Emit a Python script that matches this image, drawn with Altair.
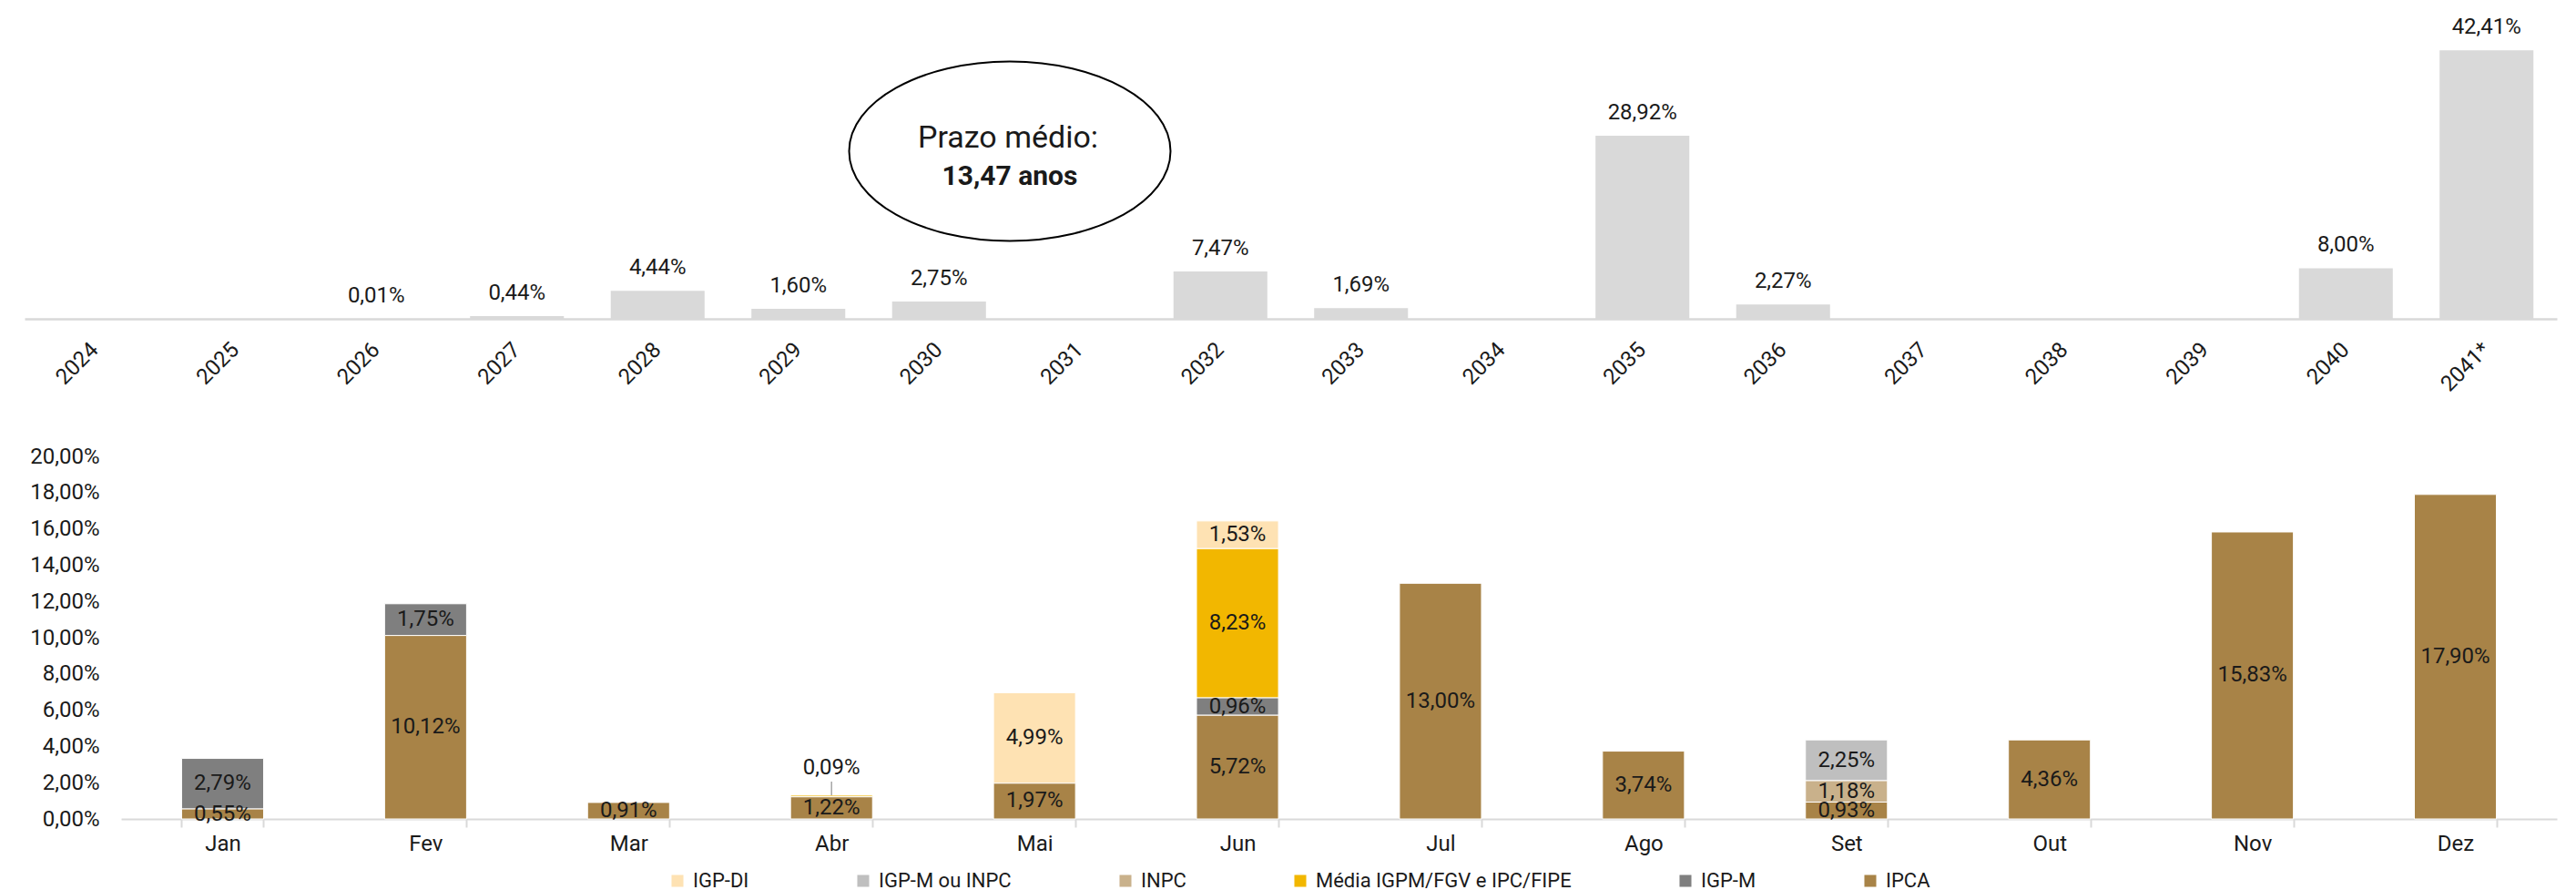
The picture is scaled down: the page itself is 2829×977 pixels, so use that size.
import altair as alt
import pandas as pd

# ---------------- data ----------------
years = ["2024", "2025", "2026", "2027", "2028", "2029", "2030", "2031", "2032",
         "2033", "2034", "2035", "2036", "2037", "2038", "2039", "2040", "2041*"]
year_pct = [None, None, 0.01, 0.44, 4.44, 1.60, 2.75, None, 7.47,
            1.69, None, 28.92, 2.27, None, None, None, 8.00, 42.41]

prazo_lines = ["Prazo médio:", "13,47 anos"]

months = ["Jan", "Fev", "Mar", "Abr", "Mai", "Jun", "Jul", "Ago", "Set", "Out", "Nov", "Dez"]

series_names = ["IGP-DI", "IGP-M ou INPC", "INPC", "Média IGPM/FGV e IPC/FIPE", "IGP-M", "IPCA"]
series_colors = ["#FEE2B3", "#BFBFBF", "#C9B18B", "#F2B700", "#7F7F7F", "#A88347"]
stack_rank = [5, 4, 3, 2, 1, 0]  # IPCA at the bottom of each stack

ipca = [0.55, 10.12, 0.91, 1.22, 1.97, 5.72, 13.00, 3.74, 0.93, 4.36, 15.83, 17.90]
igpm = [2.79, 1.75, None, None, None, 0.96, None, None, None, None, None, None]
media = [None, None, None, 0.09, None, 8.23, None, None, None, None, None, None]
inpc = [None, None, None, None, None, None, None, None, 1.18, None, None, None]
igpm_ou_inpc = [None, None, None, None, None, None, None, None, 2.25, None, None, None]
igpdi = [None, None, None, None, 4.99, 1.53, None, None, None, None, None, None]

y_ticks = [0, 2, 4, 6, 8, 10, 12, 14, 16, 18, 20]

# ---------------- tables ----------------
top_df = pd.DataFrame({"ano": years, "pct": year_pct})

series_values = {
    "IGP-DI": igpdi,
    "IGP-M ou INPC": igpm_ou_inpc,
    "INPC": inpc,
    "Média IGPM/FGV e IPC/FIPE": media,
    "IGP-M": igpm,
    "IPCA": ipca,
}
rows = []
for name, rank in zip(series_names, stack_rank):
    for m, v in zip(months, series_values[name]):
        if v is not None:
            rows.append({"mes": m, "serie": name, "pct": v, "ordem": rank})
bot_df = pd.DataFrame(rows)

FMT = "replace(format(datum.{f}, '.2f'), '.', ',') + '%'"
TXT = "#1a1a1a"

# ---------------- top chart ----------------
xtop = alt.X(
    "ano:N", sort=years,
    scale=alt.Scale(paddingInner=0.333, paddingOuter=0.1665),
    axis=alt.Axis(title=None, labelAngle=-45, labelAlign="right", labelBaseline="middle",
                  labelFontSize=24, labelPadding=30, ticks=False, labelColor=TXT,
                  domainColor="#D9D9D9", domainWidth=2.5),
)
ytop_scale = alt.Scale(domain=[0, 48.2], nice=False)

bars_top = alt.Chart(top_df).mark_bar(color="#D9D9D9").encode(
    x=xtop, y=alt.Y("pct:Q", scale=ytop_scale, axis=None)
)

labels_top = (
    alt.Chart(top_df)
    .transform_filter("isValid(datum.pct)")
    .transform_calculate(lbl=FMT.format(f="pct"))
    .mark_text(baseline="bottom", dy=-13, fontSize=24, color=TXT)
    .encode(x=alt.X("ano:N", sort=years),
            y=alt.Y("pct:Q", scale=ytop_scale, axis=None), text="lbl:N")
)

ell_df = pd.DataFrame({"k": [0]})
ellipse = alt.Chart(ell_df).mark_point(
    shape="M -1 0 A 1 0.558 0 1 1 1 0 A 1 0.558 0 1 1 -1 0 Z",
    size=124600, filled=False, color="black", strokeWidth=2, opacity=1, clip=True,
).encode(x=alt.value(1082), y=alt.value(151))

prazo1 = alt.Chart(pd.DataFrame({"t": [prazo_lines[0]]})).mark_text(
    fontSize=34, baseline="alphabetic", color=TXT
).encode(x=alt.value(1080), y=alt.value(147), text="t:N")
prazo2 = alt.Chart(pd.DataFrame({"t": [prazo_lines[1]]})).mark_text(
    fontSize=30, fontWeight="bold", baseline="alphabetic", color=TXT
).encode(x=alt.value(1082), y=alt.value(188), text="t:N")

top = alt.layer(bars_top, labels_top, ellipse, prazo1, prazo2).properties(width=2781, height=335)

# ---------------- bottom chart ----------------
base = (
    alt.Chart(bot_df)
    .transform_stack(stack="pct", groupby=["mes"],
                     sort=[alt.SortField("ordem", order="ascending")], as_=["y0", "y1"])
    .transform_calculate(mid="(datum.y0 + datum.y1) / 2", lbl=FMT.format(f="pct"))
)

xb_axis = alt.Axis(title=None, labelAngle=0, labelFontSize=24, labelPadding=6, labelColor=TXT,
                   tickBand="extent", tickColor="#D9D9D9", tickSize=9, tickWidth=2,
                   domainColor="#D9D9D9", domainWidth=2)
xb_scale = alt.Scale(paddingInner=0.596, paddingOuter=0.298)
yb_axis = alt.Axis(title=None, values=y_ticks, grid=False, domain=False, ticks=False,
                   labelFontSize=24, labelPadding=24, labelColor=TXT, labelOverlap=False,
                   labelExpr="replace(format(datum.value, '.2f'), '.', ',') + '%'")
yb_scale = alt.Scale(domain=[0, 20], nice=False)


def xenc():
    return alt.X("mes:N", sort=months, scale=xb_scale, axis=xb_axis)


def yenc(field):
    return alt.Y(field, scale=yb_scale, axis=yb_axis)


bars_b = base.mark_bar(stroke="white", strokeWidth=1).encode(
    x=xenc(), y=yenc("y0:Q"), y2="y1:Q",
    color=alt.Color(
        "serie:N",
        scale=alt.Scale(domain=series_names, range=series_colors),
        legend=alt.Legend(title=None, orient="none", legendX=706, legendY=941,
                          direction="horizontal", symbolType="square", symbolSize=170,
                          symbolStrokeWidth=0, labelFontSize=22, labelColor=TXT,
                          labelLimit=600, columnPadding=114, labelOffset=6),
    ),
)

labels_b = base.transform_filter("datum.pct >= 0.3").mark_text(
    fontSize=24, color=TXT, baseline="middle"
).encode(x=xenc(), y=yenc("mid:Q"), text="lbl:N")

callout_rule = base.transform_filter("datum.pct < 0.3").transform_calculate(
    ya="datum.y1 + 0.75"
).mark_rule(color="#A6A6A6", strokeWidth=1.5).encode(
    x=xenc(), y=yenc("y1:Q"), y2="ya:Q"
)
callout_text = base.transform_filter("datum.pct < 0.3").transform_calculate(
    yt="datum.y1 + 1.5"
).mark_text(fontSize=24, color=TXT, baseline="middle").encode(
    x=xenc(), y=yenc("yt:Q"), text="lbl:N"
)

bottom = alt.layer(bars_b, labels_b, callout_rule, callout_text).properties(width=2675, height=398)

# a 1px empty column keeps the lower panel's axis labels to the right of the upper panel's edge
spacer = alt.Chart(pd.DataFrame({"k": [0]})).mark_point(opacity=0).encode(
    x=alt.value(0), y=alt.value(0)
).properties(width=1, height=1)

chart = (
    alt.vconcat(top, alt.hconcat(spacer, bottom, spacing=2), spacing=55)
    .properties(padding={"left": 16, "top": 7, "right": 5, "bottom": 0})
    .configure(font="Roboto")
    .configure_view(strokeWidth=0)
)

chart.save("out.html", embed_options={"renderer": "svg", "actions": False})
